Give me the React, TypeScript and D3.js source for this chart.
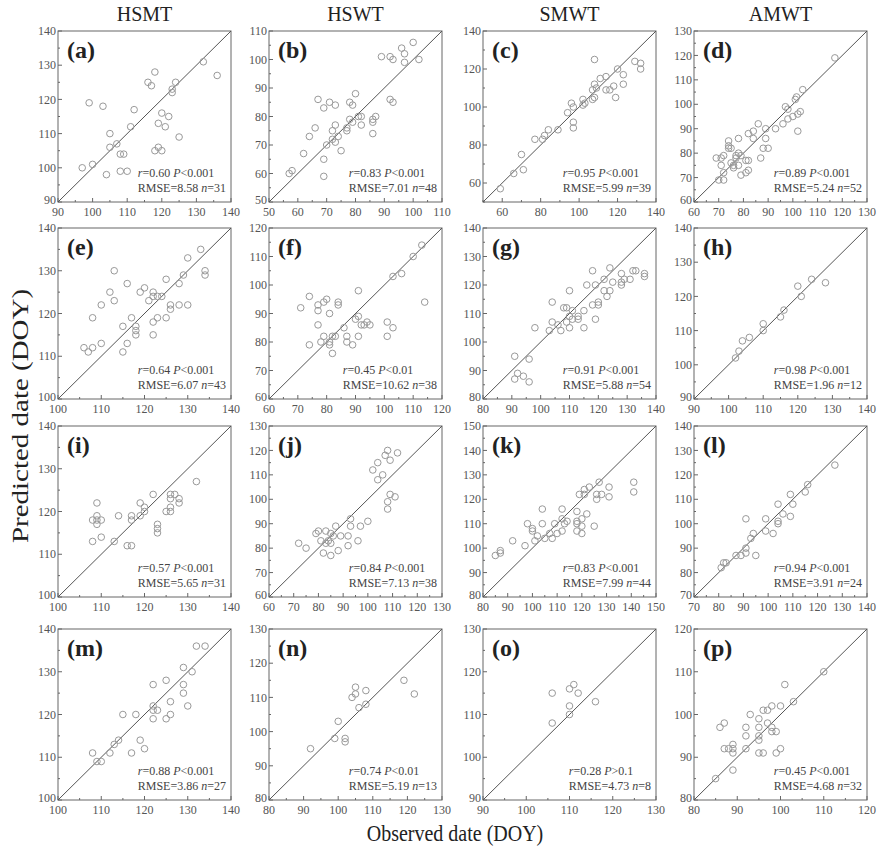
import React from "react";
import * as d3 from "d3";

// column headers and panel letters
const columnTitles = ["HSMT", "HSWT", "SMWT", "AMWT"];
const panelLetters = "abcdefghijklmnop".split("");

// axis ranges (same for observed and predicted in each panel)
const axisMin = [90, 50, 50, 60, 100, 60, 80, 90, 100, 60, 80, 70, 100, 80, 90, 80];
const axisMax = [140, 110, 140, 130, 140, 120, 140, 140, 140, 130, 150, 140, 140, 130, 130, 120];
const tickStep = [10, 10, 20, 10, 10, 10, 10, 10, 10, 10, 10, 10, 10, 10, 10, 10];

// statistics
const rValues = ["0.60", "0.83", "0.95", "0.89", "0.64", "0.45", "0.91", "0.98", "0.57", "0.84", "0.83", "0.94", "0.88", "0.74", "0.28", "0.45"];
const pValues = ["<0.001", "<0.001", "<0.001", "<0.001", "<0.001", "<0.01", "<0.001", "<0.001", "<0.001", "<0.001", "<0.001", "<0.001", "<0.001", "<0.01", ">0.1", "<0.001"];
const rmseValues = ["8.58", "7.01", "5.99", "5.24", "6.07", "10.62", "5.88", "1.96", "5.65", "7.13", "7.99", "3.91", "3.86", "5.19", "4.73", "4.68"];
const nValues = [31, 48, 39, 52, 43, 38, 54, 12, 31, 38, 44, 24, 27, 13, 8, 32];

// [observed, predicted]
const pointsA = [[97,100],[100,101],[99,119],[103,118],[104,98],[105,110],[105,106],[107,107],[108,104],[109,104],[108,99],[110,99],[111,112],[112,117],[116,125],[117,124],[118,128],[118,105],[119,113],[119,106],[120,116],[120,105],[121,112],[122,115],[123,123],[123,122],[124,125],[125,109],[132,131],[136,127]];
const pointsB = [[57,60],[58,61],[62,67],[64,73],[66,76],[67,86],[69,83],[69,65],[69,59],[70,70],[71,85],[72,75],[72,72],[73,84],[73,77],[73,71],[74,73],[75,68],[77,75],[77,76],[78,85],[78,79],[79,84],[79,78],[80,88],[81,80],[82,80],[82,77],[86,78],[86,79],[86,74],[87,80],[89,101],[92,101],[92,86],[93,85],[93,100],[96,104],[97,102],[97,99],[100,106],[102,100]];
const pointsC = [[59,57],[66,65],[70,75],[71,67],[77,83],[81,83],[82,85],[84,88],[89,88],[94,97],[96,102],[97,89],[97,92],[97,100],[102,104],[103,102],[102,101],[107,104],[107,109],[108,125],[108,112],[108,105],[109,110],[111,115],[114,116],[114,109],[116,109],[118,111],[119,105],[120,120],[123,117],[123,112],[129,124],[132,123],[132,120]];
const pointsD = [[69,78],[70,69],[71,78],[71,75],[72,69],[72,72],[72,79],[74,82],[74,85],[74,83],[75,76],[75,82],[76,75],[76,74],[77,78],[77,79],[78,86],[78,75],[78,80],[79,79],[79,71],[81,77],[81,72],[82,73],[82,77],[82,88],[84,86],[84,89],[86,92],[87,78],[88,82],[89,90],[89,86],[90,82],[93,90],[96,92],[97,99],[98,98],[98,94],[100,95],[101,102],[101.5,103],[102,96],[102,89],[103,97],[104,106],[117,119]];
const pointsE = [[106,112],[107,111],[108,112],[108,119],[110,122],[110,113],[112,125],[113,130],[113,123],[115,117],[115,111],[116,127],[116,113],[117,119],[118,117],[118,116],[118,115],[119,125],[120,126],[121,123],[122,125],[122,124],[122,118],[122,115],[123,124],[123,119],[124,124],[125,128],[125,119],[126,122],[126,121],[128,127],[128,122],[129,129],[130,133],[130,122],[133,135],[134,130],[134,129]];
const pointsF = [[71,92],[74,96],[74,79],[77,93],[77,91],[77,86],[78,80],[79,82],[79,94],[80,95],[81,80],[81,90],[81,79],[82,76],[82,82],[83,82],[84,94],[84,93],[86,85],[87,82],[87,80],[89,79],[90,88],[91,98],[91,82],[91,89],[92,86],[93,86],[94,87],[95,86],[101,87],[101,82],[103,85],[103,103],[106,104],[110,110],[113,114],[114,94]];
const pointsG = [[91,95],[91,87],[92,89],[94,88],[96,94],[96,86],[98,105],[103,104],[104,114],[104,107],[106,106],[107,104],[108,112],[109,112],[109,107],[110,109],[110,105],[110,118],[111,111],[111,108],[113,108],[113,109],[115,105],[115,111],[116,120],[118,125],[118,113],[119,108],[119,120],[120,114],[120,113],[122,122],[122,118],[123,116],[124,126],[124,118],[125,121],[128,124],[128,121],[128,120],[129,122],[131,122],[132,125],[133,125],[136,124],[136,123]];
const pointsH = [[102,102],[103,104],[104,107],[106,108],[110,110],[110,112],[115,114],[116,116],[120,123],[121,120],[124,125],[128,124]];
const pointsI = [[108,113],[108,118],[109,122],[109,119],[109,118],[109,117],[110,118],[110,114],[113,113],[114,119],[116,112],[117,112],[117,119],[117,118],[119,119],[119,122],[120,120],[120,121],[122,124],[123,117],[123,116],[123,115],[125,120],[126,120],[126,121],[126,123],[126,124],[127,124],[128,123],[128,122],[132,127]];
const pointsJ = [[72,82],[75,80],[79,86],[80,87],[81,83],[82,78],[83,87],[83,82],[84,83],[85,77],[85,82],[85,86],[86,85],[87,89],[88,79],[89,85],[92,85],[92,81],[93,92],[93,89],[96,83],[97,89],[100,91],[102,112],[104,115],[104,108],[106,110],[107,118],[108,120],[108,96],[108,99],[109,102],[109,116],[111,101],[112,119]];
const pointsK = [[85,97],[87,99],[87,98],[92,103],[97,101],[98,110],[100,108],[100,107],[101,103],[102,105],[104,116],[104,110],[105,104],[107,106],[108,104],[109,110],[110,106],[112,107],[112,116],[112,112],[113,110],[114,111],[118,115],[118,111],[118,110],[118,107],[119,122],[120,109],[120,106],[120,112],[121,122],[121,124],[122,114],[123,125],[125,109],[126,122],[126,120],[127,127],[128,122],[131,125],[131,121],[141,127],[141,123]];
const pointsL = [[81,82],[82,84],[83,84],[87,87],[89,87],[91,88],[91,90],[91,102],[93,94],[94,96],[95,87],[99,97],[99,102],[102,96],[104,100],[104,101],[104,108],[106,104],[109,103],[109,112],[110,108],[115,113],[116,116],[127,124]];
const pointsM = [[108,111],[109,109],[110,109],[112,111],[113,113],[114,114],[115,120],[117,111],[118,120],[119,114],[120,112],[122,127],[122,122],[122,121],[122,119],[123,121],[125,128],[125,119],[126,123],[126,120],[129,131],[129,127],[129,125],[130,122],[131,130],[132,136],[134,136]];
const pointsN = [[92,95],[99,98],[100,103],[102,98],[102,97],[104,110],[105,111],[105,113],[106,107],[108,108],[108,112],[119,115],[122,111]];
const pointsO = [[106,115],[106,108],[110,116],[110,112],[110,110],[111,117],[112,115],[116,113]];
const pointsP = [[85,85],[86,97],[87,98],[87,92],[88,92],[89,93],[89,92],[89,91],[89,87],[92,92],[92,95],[92,97],[93,100],[95,99],[95,97],[95,95],[95,94],[95,91],[96,91],[96,101],[97,101],[97,98],[98,102],[98,97],[98,96],[99,96],[99,91],[100,102],[100,92],[101,107],[103,103],[110,110]];

const panelPoints = [pointsA, pointsB, pointsC, pointsD, pointsE, pointsF, pointsG, pointsH, pointsI, pointsJ, pointsK, pointsL, pointsM, pointsN, pointsO, pointsP];

const W = 880, H = 847;
const colLeft = [58, 269, 483, 694];
const rowTop = [31, 228, 426, 629];
const pw = 173, ph = 171;
const FONT = "'Liberation Serif', 'Times New Roman', serif";

let ctx: CanvasRenderingContext2D | null = null;
function textWidth(s: string, size: number) {
  if (!ctx) ctx = document.createElement("canvas").getContext("2d");
  if (!ctx) return s.length * size * 0.5;
  ctx.font = `${size}px 'Liberation Serif'`;
  return ctx.measureText(s).width;
}

function Panel({ i }: { i: number }) {
  const x0 = colLeft[i % 4], y0 = rowTop[Math.floor(i / 4)];
  const lo = axisMin[i], hi = axisMax[i], step = tickStep[i];
  const x = d3.scaleLinear().domain([lo, hi]).range([x0, x0 + pw]);
  const y = d3.scaleLinear().domain([lo, hi]).range([y0 + ph, y0]);
  const first = Math.ceil(lo / step) * step;
  const ticks = d3.range(first, hi + 0.01, step);
  const minor = d3.range(lo, hi + 0.01, step / 2).filter(v => !ticks.includes(v));
  const line2 = `RMSE=${rmseValues[i]} n=${nValues[i]}`;
  const xRight = x0 + pw - 5;
  const xStart = xRight - textWidth(line2, 12);
  const bottom = y0 + ph;
  return (
    <g>
      {ticks.map(t => (
        <g key={"t" + t}>
          <line x1={x(t)} x2={x(t)} y1={bottom} y2={bottom - 4} stroke="#666" />
          <line x1={x0} x2={x0 + 4} y1={y(t)} y2={y(t)} stroke="#666" />
          <text x={x(t)} y={bottom + 14} textAnchor="middle" fontSize={12} fill="#555">{t}</text>
          <text x={x0 - 2} y={t === lo ? y(t) - 2 : y(t)} dy="0.35em" textAnchor="end" fontSize={12} fill="#555">{t}</text>
        </g>
      ))}
      {minor.map(t => (
        <g key={"m" + t}>
          <line x1={x(t)} x2={x(t)} y1={bottom} y2={bottom - 2} stroke="#666" />
          <line x1={x0} x2={x0 + 2} y1={y(t)} y2={y(t)} stroke="#666" />
        </g>
      ))}
      <rect x={x0} y={y0} width={pw} height={ph} fill="none" stroke="#666" strokeWidth={1} />
      <line x1={x(lo)} y1={y(lo)} x2={x(hi)} y2={y(hi)} stroke="#555" strokeWidth={1} />
      {panelPoints[i].map((p, k) => (
        <circle key={k} cx={x(p[0])} cy={y(p[1])} r={3.3} fill="none" stroke="#999" strokeWidth={1} />
      ))}
      <text x={x0 + 9} y={y0 + 27} fontSize={24} fontWeight="bold" fill="#222">({panelLetters[i]})</text>
      <text x={xStart} y={bottom - 25} fontSize={12} fill="#444">
        <tspan fontStyle="italic">r</tspan>={rValues[i]} <tspan fontStyle="italic">P</tspan>{pValues[i]}
      </text>
      <text x={xRight} y={bottom - 10} fontSize={12} fill="#444" textAnchor="end">
        RMSE={rmseValues[i]} <tspan fontStyle="italic">n</tspan>={nValues[i]}
      </text>
    </g>
  );
}

export default function App() {
  return (
    <div style={{ position: "absolute", left: 0, top: 0, background: "#fff" }}>
      <svg width={W} height={H} fontFamily={FONT} style={{ display: "block" }}>
        <rect width={W} height={H} fill="#fff" />
        {columnTitles.map((t, c) => (
          <text key={t} x={colLeft[c] + pw / 2} y={21} textAnchor="middle" fontSize={20} fill="#222">{t}</text>
        ))}
        {d3.range(16).map(i => <Panel key={i} i={i} />)}
        <text transform="translate(28,416) scale(1,1.26) rotate(-90)" textAnchor="middle" fontSize={23} fill="#222">Predicted date (DOY)</text>
        <text transform="translate(455,841) scale(1,1.2)" textAnchor="middle" fontSize={20} fill="#222">Observed date (DOY)</text>
      </svg>
    </div>
  );
}
